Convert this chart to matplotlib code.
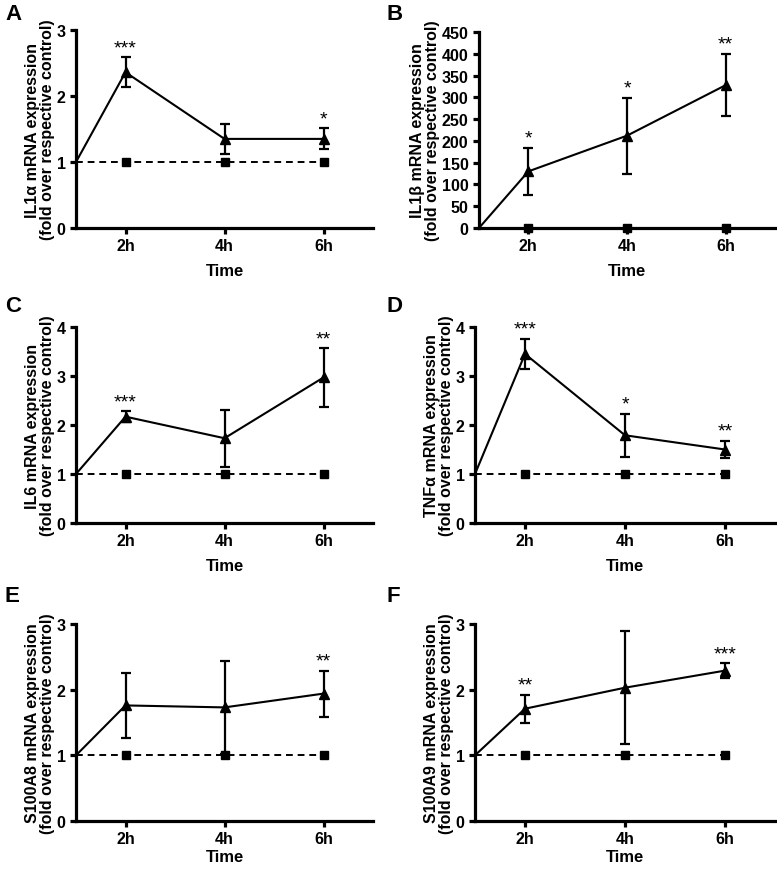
import matplotlib
matplotlib.use("Agg")
import matplotlib.pyplot as plt

plt.rcParams['font.family'] = ['Liberation Sans', 'DejaVu Sans']

time_labels = ["2h", "4h", "6h"]
time_pos = [2, 4, 6]
start_pos = 1

panels = ["A", "B", "C", "D", "E", "F"]
genes = ["IL1α", "IL1β", "IL6", "TNFα", "S100A8", "S100A9"]

treated_mean = {
    "A": [2.36, 1.35, 1.35],
    "B": [130, 212, 328],
    "C": [2.17, 1.73, 2.97],
    "D": [3.45, 1.79, 1.50],
    "E": [1.76, 1.73, 1.94],
    "F": [1.71, 2.03, 2.29],
}
treated_err = {
    "A": [0.23, 0.23, 0.16],
    "B": [54, 87, 72],
    "C": [0.11, 0.58, 0.60],
    "D": [0.31, 0.44, 0.18],
    "E": [0.49, 0.71, 0.35],
    "F": [0.21, 0.86, 0.11],
}
control_mean = {
    "A": [1, 1, 1],
    "B": [0, 0, 0],
    "C": [1, 1, 1],
    "D": [1, 1, 1],
    "E": [1, 1, 1],
    "F": [1, 1, 1],
}
start_value = {"A": 1, "B": 0, "C": 1, "D": 1, "E": 1, "F": 1}
stars = {
    "A": ["***", "", "*"],
    "B": ["*", "*", "**"],
    "C": ["***", "", "**"],
    "D": ["***", "*", "**"],
    "E": ["", "", "**"],
    "F": ["**", "", "***"],
}
y_max = {"A": 3, "B": 450, "C": 4, "D": 4, "E": 3, "F": 3}
y_step = {"A": 1, "B": 50, "C": 1, "D": 1, "E": 1, "F": 1}

W, H = 777, 870
fig = plt.figure(figsize=(W / 100, H / 100), dpi=100)

# axes boxes in pixels: left, top, right, bottom
boxes = {
    "A": (76, 31, 373, 229),
    "B": (479, 33, 775, 229),
    "C": (76, 328, 373, 524),
    "D": (475, 328, 775, 524),
    "E": (76, 625, 373, 822),
    "F": (475, 625, 775, 822),
}
letter_pos = {"A": (5, 20), "B": (386, 20), "C": (5, 312), "D": (386, 312),
              "E": (5, 602), "F": (386, 602)}
time_pad = {"A": 7, "B": 7, "C": 7, "D": 7, "E": 2, "F": 2}

fs = 11
for p, gene in zip(panels, genes):
    l, t, r, b = boxes[p]
    ax = fig.add_axes([l / W, 1 - b / H, (r - l) / W, (b - t) / H])
    xs = [start_pos] + time_pos
    ys_c = [start_value[p]] + control_mean[p]
    ys_t = [start_value[p]] + treated_mean[p]
    ax.plot(xs, ys_c, color='black', lw=1.4, ls=(0, (3.5, 2.5)), marker='s',
            markersize=6, markevery=[1, 2, 3], clip_on=False, zorder=3)
    ax.plot(xs, ys_t, color='black', lw=1.5, marker='^', markersize=6.5,
            markevery=[1, 2, 3], clip_on=False, zorder=4)
    ax.errorbar(time_pos, treated_mean[p], yerr=treated_err[p], fmt='none',
                ecolor='black', elinewidth=1.6, capsize=3.8, capthick=1.6,
                zorder=4)
    ymax = y_max[p]
    for xp, m, e, s in zip(time_pos, treated_mean[p], treated_err[p], stars[p]):
        if s:
            ax.text(xp, m + e + ymax * 0.005, s, ha='center', va='bottom',
                    fontsize=14, color='black')
    ax.set_xlim(1, 7)
    ax.set_ylim(0, ymax)
    ticks = list(range(0, ymax + 1, y_step[p]))
    ax.set_yticks(ticks)
    ax.set_yticklabels([str(v) for v in ticks], fontsize=fs + 0.5, fontweight='bold')
    ax.set_xticks(time_pos)
    ax.set_xticklabels(time_labels, fontsize=fs + 0.5, fontweight='bold')
    ax.set_xlabel("Time", fontsize=fs + 1, fontweight='bold', labelpad=time_pad[p])
    ax.set_ylabel(f"{gene} mRNA expression\n(fold over respective control)",
                  fontsize=fs + 0.5, fontweight='bold', labelpad=1, linespacing=1.0)
    for sp in ['top', 'right']:
        ax.spines[sp].set_visible(False)
    for sp in ['left', 'bottom']:
        ax.spines[sp].set_linewidth(2.3)
    ax.tick_params(axis='both', direction='out', length=4.5, width=2.3, pad=3)
    ax.patch.set_alpha(0)
    lx, ly = letter_pos[p]
    fig.text(lx / W, 1 - ly / H, p, fontsize=16, fontweight='bold',
             ha='left', va='baseline')

fig.savefig("out.png", dpi=100)
